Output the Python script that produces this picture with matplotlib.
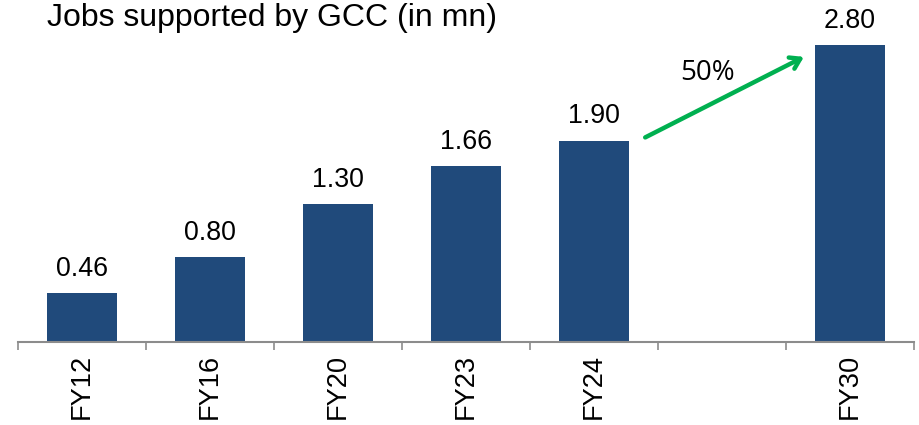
import matplotlib
matplotlib.use("Agg")
import matplotlib.pyplot as plt
import numpy as np

# Jobs supported by GCCs, in millions
categories = ["FY12", "FY16", "FY20", "FY23", "FY24", "", "FY30"]
jobs = [0.46, 0.80, 1.30, 1.66, 1.90, None, 2.80]
growth_label = "50%"

plt.rcParams["font.family"] = ["Liberation Sans", "DejaVu Sans"]

BAR_COLOR = "#204A7B"
ARROW_COLOR = "#00B050"

fig = plt.figure(figsize=(9.2, 4.25), dpi=100)
ax = fig.add_axes([18 / 920, 1 - 342 / 425, 896 / 920, 318 / 425])

x = np.arange(len(categories))
for xi, v in zip(x, jobs):
    if v is None:
        continue
    ax.bar(xi, v, width=0.55, color=BAR_COLOR, zorder=2)
    ax.annotate(f"{v:.2f}", (xi, v), xytext=(0, 8), textcoords="offset points",
                ha="center", va="bottom", fontsize=19.3, color="black")

ax.set_xlim(-0.5, len(categories) - 0.5)
ax.set_ylim(0, 3.0)

# category labels centred, tick marks at category boundaries
ax.set_xticks(x)
ax.set_xticklabels(categories, rotation=90, fontsize=19.6)
ax.tick_params(axis="x", which="major", length=0, pad=8.5)
ax.set_xticks(np.arange(len(categories) + 1) - 0.5, minor=True)
ax.tick_params(axis="x", which="minor", length=6, width=1.2, color="#8C8C8C")
ax.set_yticks([])

for side in ("top", "right", "left"):
    ax.spines[side].set_visible(False)
ax.spines["bottom"].set_color("#8C8C8C")
ax.spines["bottom"].set_linewidth(1.5)

# growth arrow from FY24 to FY30
ax.annotate("", xy=(5.64, 2.69), xytext=(4.40, 1.93),
            arrowprops=dict(arrowstyle="->,head_length=0.7,head_width=0.45",
                            color=ARROW_COLOR, lw=3.2, shrinkA=0, shrinkB=0))
ax.text(4.89, 2.54, growth_label, ha="center", va="center", fontsize=20,
        family=["Open Sans", "DejaVu Sans"])

fig.text(47 / 920, 1 - 26 / 425, "Jobs supported by GCC (in mn)",
         ha="left", va="baseline", fontsize=23)

fig.savefig("out.png", dpi=100, facecolor="white")
